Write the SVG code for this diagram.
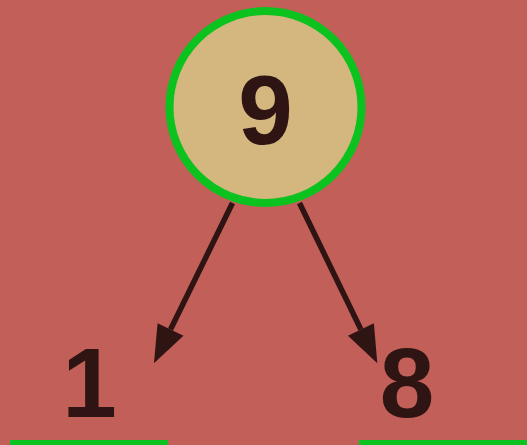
<svg xmlns="http://www.w3.org/2000/svg" width="527" height="445" viewBox="0 0 527 445">
  <style>
    .lbl { font-family: "Liberation Sans", Arial, sans-serif; font-weight: bold; font-size: 98px; fill: #2E1412; text-anchor: middle; }
    .edge { stroke: #2E1412; stroke-width: 5.5; fill: none; }
    .bar { fill: #0BC21F; }
  </style>
  <defs>
    <marker id="arrow" markerUnits="userSpaceOnUse" markerWidth="40" markerHeight="30" refX="0" refY="14.4" orient="auto" overflow="visible">
      <path d="M0,0 L37.6,14.4 L0,28.8 z" fill="#2E1412"/>
    </marker>
  </defs>
  <rect width="527" height="445" fill="#C25F59"/>
  <g id="connectors">
    <line class="edge" x1="232.5" y1="203" x2="170.5" y2="329.5" marker-end="url(#arrow)"/>
    <line class="edge" x1="299.5" y1="203" x2="360.9" y2="329.5" marker-end="url(#arrow)"/>
  </g>
  <g id="node-9">
    <circle cx="265.5" cy="107" r="96" fill="#D4B77F" stroke="#0BC21F" stroke-width="8"/>
    <text class="lbl" x="265.5" y="144">9</text>
  </g>
  <g id="node-1">
    <text class="lbl" x="89.5" y="417">1</text>
    <rect class="bar" x="10" y="440" width="158" height="6"/>
  </g>
  <g id="node-8">
    <text class="lbl" x="407" y="417">8</text>
    <rect class="bar" x="359" y="440" width="168" height="6"/>
  </g>
</svg>
